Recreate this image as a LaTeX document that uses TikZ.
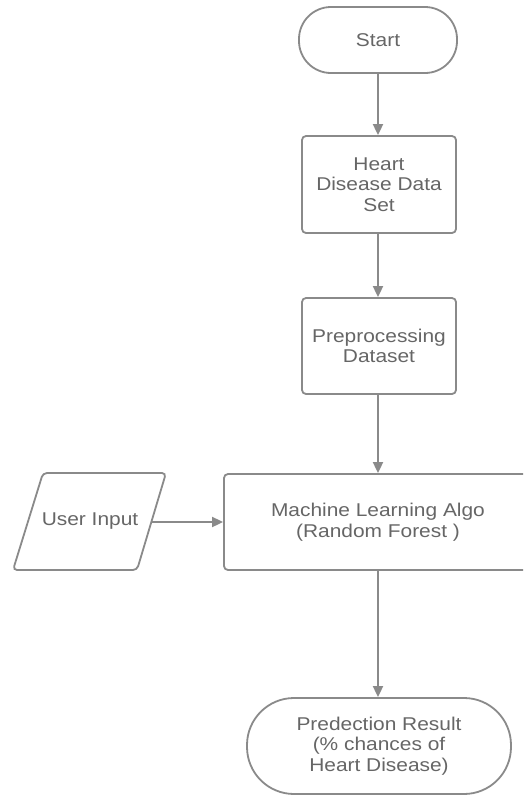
\documentclass[tikz,border=0pt]{standalone}
\usepackage{fontspec}
\setmainfont[FakeStretch=1.13]{Liberation Sans}
\usetikzlibrary{arrows.meta}
\definecolor{linegray}{HTML}{8A8A8A}
\definecolor{textgray}{HTML}{666666}
\begin{document}
\begin{tikzpicture}[x=1pt,y=-1pt,
  every node/.style={font=\fontsize{18.5}{20.5}\selectfont, text=textgray, align=center, inner sep=0pt},
  boxshape/.style={draw=linegray, line width=1.8pt, fill=white, rounded corners=4pt},
  termshape/.style={draw=linegray, line width=1.8pt, fill=white},
  flowarrow/.style={draw=linegray, line width=1.8pt, -{Triangle[width=10pt,length=11pt]}}
]
\useasboundingbox (0,0) rectangle (523,796);
\clip (0,0) rectangle (523,796);
\fill[white] (0,0) rectangle (523,796);

\node[termshape, rounded corners=32pt, minimum width=158pt, minimum height=66pt] (start) at (378,40) {Start};
\node[boxshape, minimum width=154pt, minimum height=97pt] (data) at (379,184.5) {Heart\\Disease Data\\Set};
\node[boxshape, minimum width=154pt, minimum height=96pt] (prep) at (379,346) {Preprocessing\\Dataset};
\node[boxshape, minimum width=308pt, minimum height=96pt] (ml) at (378,522) {Machine Learning Algo\\(Random Forest )};
\node[termshape, rounded corners=47pt, minimum width=264pt, minimum height=96pt] (pred) at (379,746) {Predection Result\\(\% chances of\\Heart Disease)};

\draw[boxshape] (43,473) -- (166,473) -- (137,570) -- (13,570) -- cycle;
\node (ui) at (90,521) {User Input};
\coordinate (uiR) at (152,522);

\draw[flowarrow] (start.south -| 378,0) -- (378,0 |- data.north);
\draw[flowarrow] (378,0 |- data.south) -- (378,0 |- prep.north);
\draw[flowarrow] (378,0 |- prep.south) -- (ml.north);
\draw[flowarrow] (ml.south) -- (378,0 |- pred.north);
\draw[flowarrow] (uiR) -- (ml.west |- uiR);
\end{tikzpicture}
\end{document}
